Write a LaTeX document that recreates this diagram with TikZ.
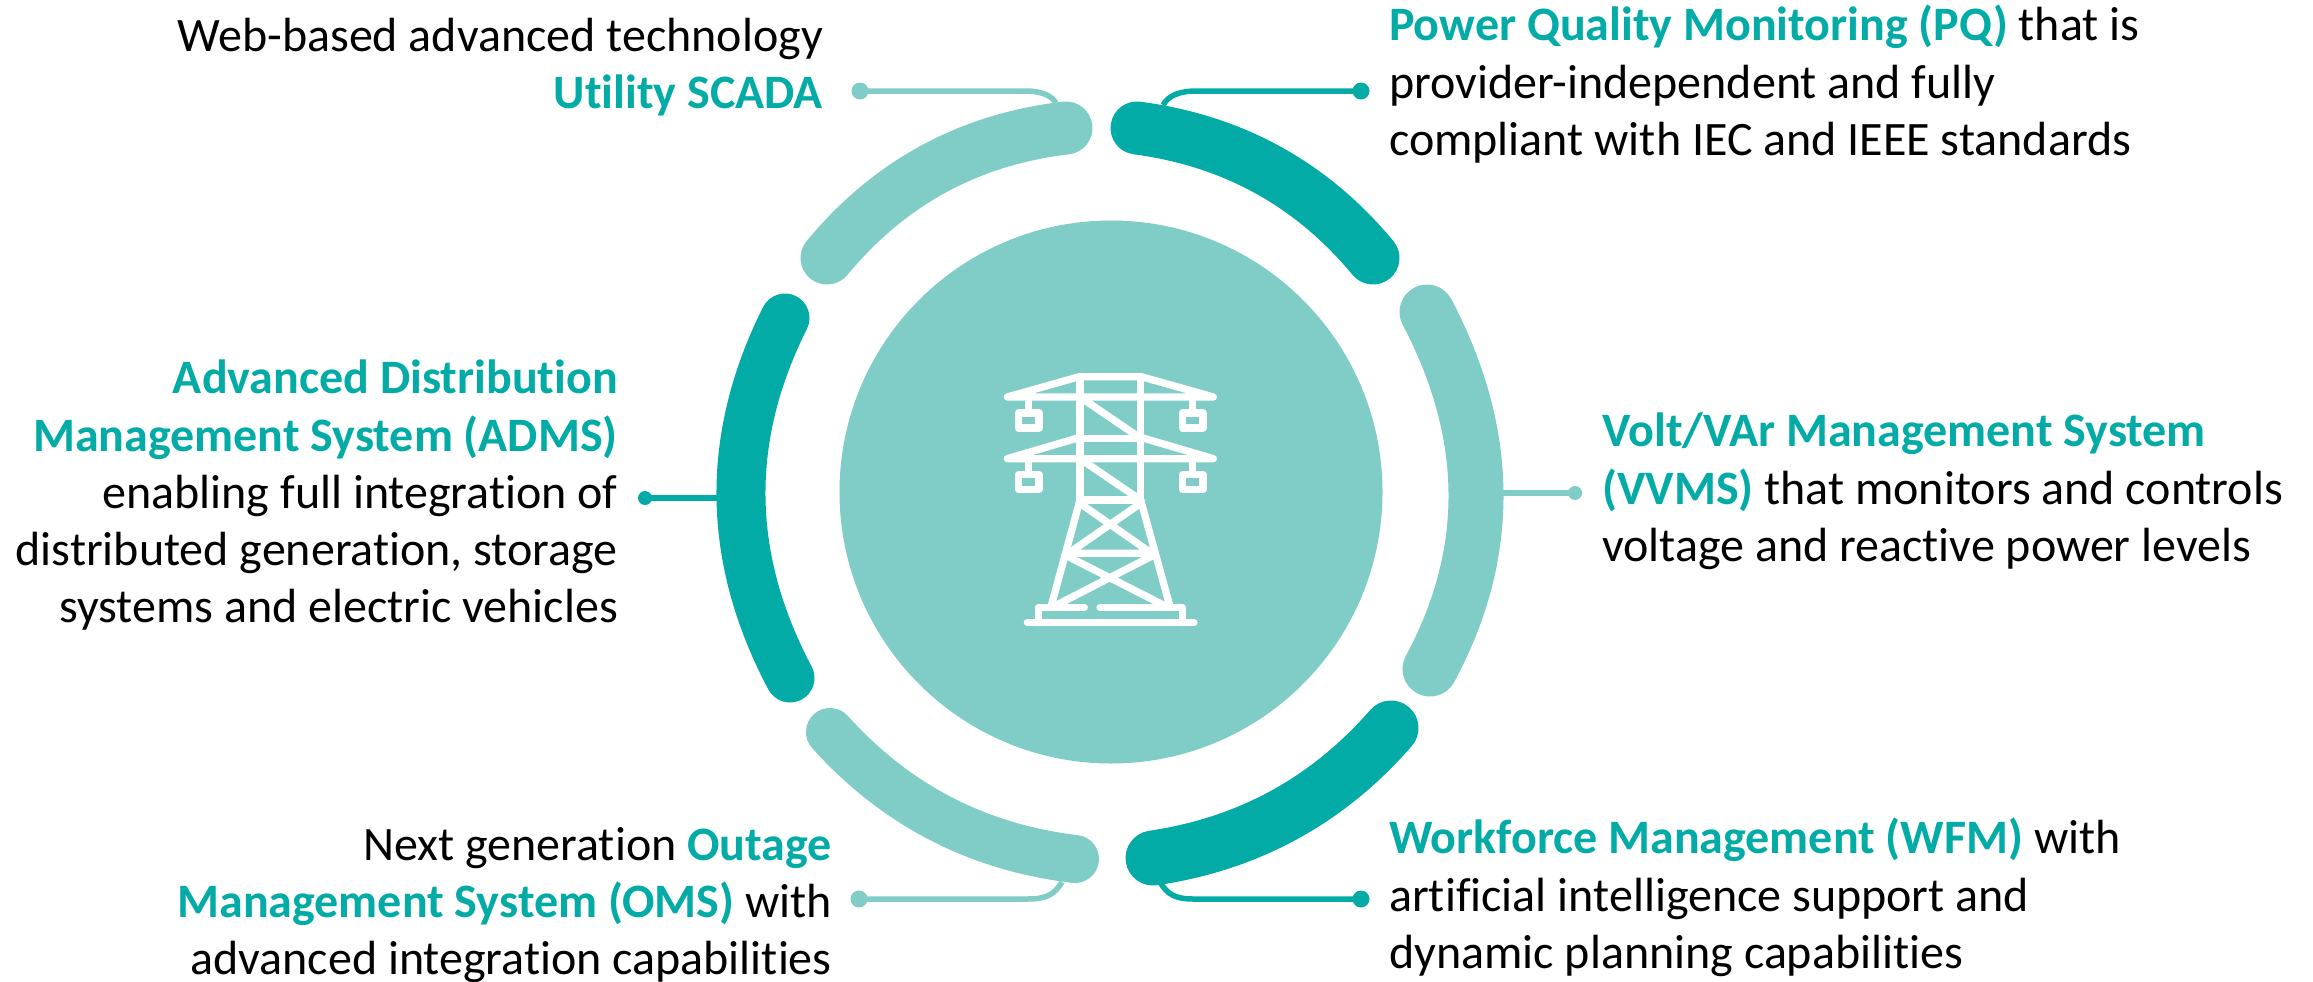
\documentclass[tikz,border=0pt]{standalone}
\usepackage{fontspec}
\setmainfont[Ligatures=NoCommon]{Carlito}
\definecolor{lightteal}{HTML}{7FCDC6}
\definecolor{darkteal}{HTML}{02ABA6}
\newcommand{\hl}[1]{\textcolor{darkteal}{\bfseries #1}}
\newcommand{\bandarc}[9]{%
  \pgfmathsetmacro{\qx}{2*#5-(#3+#7)/2}%
  \pgfmathsetmacro{\qy}{2*#6-(#4+#8)/2}%
  \pgfmathsetmacro{\cax}{#3+2/3*(\qx-#3)}%
  \pgfmathsetmacro{\cay}{#4+2/3*(\qy-#4)}%
  \pgfmathsetmacro{\cbx}{#7+2/3*(\qx-#7)}%
  \pgfmathsetmacro{\cby}{#8+2/3*(\qy-#8)}%
  \draw[#1,line width=#2pt,line cap=round] (#3,#4) .. controls (\cax,\cay) and (\cbx,\cby) .. (#7,#8);%
  \coordinate (#9) at (#5,#6);}
\tikzset{
  x=1pt,y=-1pt,
  lead/.style={line width=5.5pt},
  dot/.style={circle,fill=#1,inner sep=0pt,minimum size=17pt},
  txtR/.style={font=\fontsize{48}{57.2}\selectfont,align=right,anchor=north east,inner sep=0pt},
  txtL/.style={font=\fontsize{48}{57.2}\selectfont,align=left,anchor=north west,inner sep=0pt},
  twr/.style={white,line width=7.3pt,line cap=round,line join=round}
}
\begin{document}
\begin{tikzpicture}
\useasboundingbox (0,0) rectangle (2313,982);
\node[circle,fill=lightteal,inner sep=0pt,minimum size=543pt] (hub) at (1111,492) {};
% arcs
\bandarc{lightteal}{53}{1066}{128}{933.5}{169}{827}{258}{arcS}
\bandarc{darkteal}{53}{1137}{128}{1268}{170}{1373}{258}{arcP}
\bandarc{lightteal}{55}{1427}{312}{1476}{493}{1430}{669}{arcV}
\bandarc{darkteal}{55}{1391}{728}{1284}{815}{1153}{858}{arcW}
\bandarc{lightteal}{48}{1075}{859}{940.5}{818.5}{830}{732}{arcO}
\bandarc{darkteal}{49}{790}{678}{741}{498}{785}{318}{arcA}
% leader ends
\coordinate (endS) at (1056,103);
\coordinate (endP) at (1163,105);
\coordinate (endV) at (1503,493);
\coordinate (endW) at (1160,882);
\coordinate (endO) at (1062,882);
\coordinate (endA) at (717,498);
% dots
\node[dot=lightteal] (dotS) at (860,91) {};
\node[dot=darkteal] (dotP) at (1361,91) {};
\node[dot=lightteal,minimum size=14pt] (dotV) at (1575,493) {};
\node[dot=darkteal] (dotW) at (1361,899) {};
\node[dot=lightteal] (dotO) at (859,899) {};
\node[dot=darkteal,minimum size=14pt] (dotA) at (645,498) {};
% leaders
\draw[lead,lightteal] (dotS.center) -- (1025,91) .. controls (1042,91) and (1052,96) .. (endS);
\draw[lead,darkteal] (dotP.center) -- (1197,91) .. controls (1180,91) and (1169,95) .. (endP);
\draw[lead,lightteal] (dotV.center) -- (endV);
\draw[lead,darkteal] (dotW.center) -- (1193,899) .. controls (1175,899) and (1167,894) .. (endW);
\draw[lead,lightteal] (dotO.center) -- (1027,899) .. controls (1046,899) and (1054,895) .. (endO);
\draw[lead,darkteal] (dotA.center) -- (endA);
% tower
\begin{scope}[shift={(950,340)},scale=1/3]
\draw[twr] (172,171) -- (388,110) -- (574,110) -- (790,171) -- cycle;
\draw[twr] (172,356) -- (390,292) (572,292) -- (790,356) (172,356) -- (790,356);
\draw[twr] (390,110) -- (390,480) (572,110) -- (572,480);
\draw[twr] (390,295) -- (572,295) (390,480) -- (572,480);
\draw[twr] (390,171) -- (572,295) (390,356) -- (572,480);
\draw[twr] (390,480) -- (303,800) (572,480) -- (660,800);
\draw[twr] (390,490) -- (605,640) (572,490) -- (355,640) (350,640) -- (612,640);
\draw[twr] (345,645) -- (650,800) (612,645) -- (310,800);
\draw[twr] (403,802) -- (265,802) -- (265,848) (450,802) -- (697,802) -- (697,848) (232,848) -- (732,848);
\draw[twr] (235,171) -- (235,215) (727,171) -- (727,215) (235,356) -- (235,400) (727,356) -- (727,400);
\draw[twr] (205,219) rectangle (267,264) (697,219) rectangle (759,264) (205,403) rectangle (267,449) (697,403) rectangle (759,449);
\end{scope}
% text
\node[txtR] (tS) at (823,18) {Web-based advanced technology\\\hl{Utility SCADA}};
\node[txtL] (tP) at (1389,5) {\hl{Power Quality Monitoring (PQ)} that is\\provider-independent and fully\\compliant with IEC and IEEE standards};
\node[txtL] (tV) at (1602,413) {\hl{Volt/VAr Management System}\\\hl{(VVMS)} that monitors and controls\\voltage and reactive power levels};
\node[txtR] (tA) at (618,360) {\hl{Advanced Distribution}\\\hl{Management System (ADMS)}\\enabling full integration of\\distributed generation, storage\\systems and electric vehicles};
\node[txtL] (tW) at (1389,818) {\hl{Workforce Management (WFM)} with\\artificial intelligence support and\\dynamic planning capabilities};
\node[txtR] (tO) at (832,827) {Next generation \hl{Outage}\\\hl{Management System (OMS)} with\\advanced integration capabilities};
\end{tikzpicture}
\end{document}
